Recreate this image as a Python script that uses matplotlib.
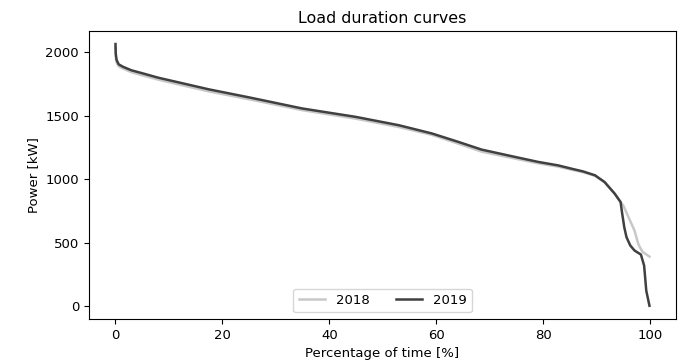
import numpy as np
import matplotlib.pyplot as plt

# sorted load, share of time (%) vs power (kW)
pct_2019 = [0, 0.05, 0.2, 0.6, 1.4, 3, 5.1, 8, 11.3, 17.5, 25, 34.9, 44.9, 53,
            59.2, 64.2, 68.5, 74.8, 79.1, 82.8, 85.3, 87.5, 89.7, 91.5, 93.4,
            94.5, 94.8, 95.2, 95.6, 96.3, 97.1, 98.3, 98.9, 99.3, 99.9]
load_2019 = [2065, 1990, 1940, 1905, 1886, 1858, 1834, 1800, 1768, 1708, 1645,
             1558, 1492, 1426, 1361, 1294, 1234, 1176, 1137, 1110, 1084, 1062,
             1032, 979, 887, 821, 729, 620, 545, 480, 440, 408, 321, 124, 5]

pct_2018 = [0, 0.05, 0.2, 0.6, 1.4, 3, 5.1, 8, 11.3, 17.5, 25, 34.9, 44.9, 53,
            59.2, 64.2, 68.5, 74.8, 79.1, 82.8, 85.3, 87.5, 89.7, 91.5, 93.4,
            94.5, 95.0, 96.0, 97.1, 97.8, 98.1, 98.6, 99.9]
load_2018 = [2040, 1965, 1920, 1890, 1872, 1843, 1818, 1785, 1752, 1692, 1630,
             1545, 1478, 1412, 1350, 1280, 1218, 1163, 1126, 1100, 1076, 1056,
             1028, 977, 887, 821, 795, 700, 597, 492, 466, 430, 392]

plt.rcParams['font.size'] = 9.5

fig = plt.figure(figsize=(6.83, 3.64), dpi=100)
ax = fig.add_axes([0.130, 0.124, 0.860, 0.791])

ax.plot(pct_2018, load_2018, color='#c8c8c8', lw=1.8, label='2018')
ax.plot(pct_2019, load_2019, color='#404040', lw=1.8, label='2019')

ax.set_title('Load duration curves', fontsize=11.4)
ax.set_xlabel('Percentage of time [%]')
ax.set_ylabel('Power [kW]')
ax.set_xticks(np.arange(0, 101, 20))
ax.set_yticks(np.arange(0, 2001, 500))
ax.legend(loc='lower center', ncol=2)

fig.savefig('out.png', dpi=100)
